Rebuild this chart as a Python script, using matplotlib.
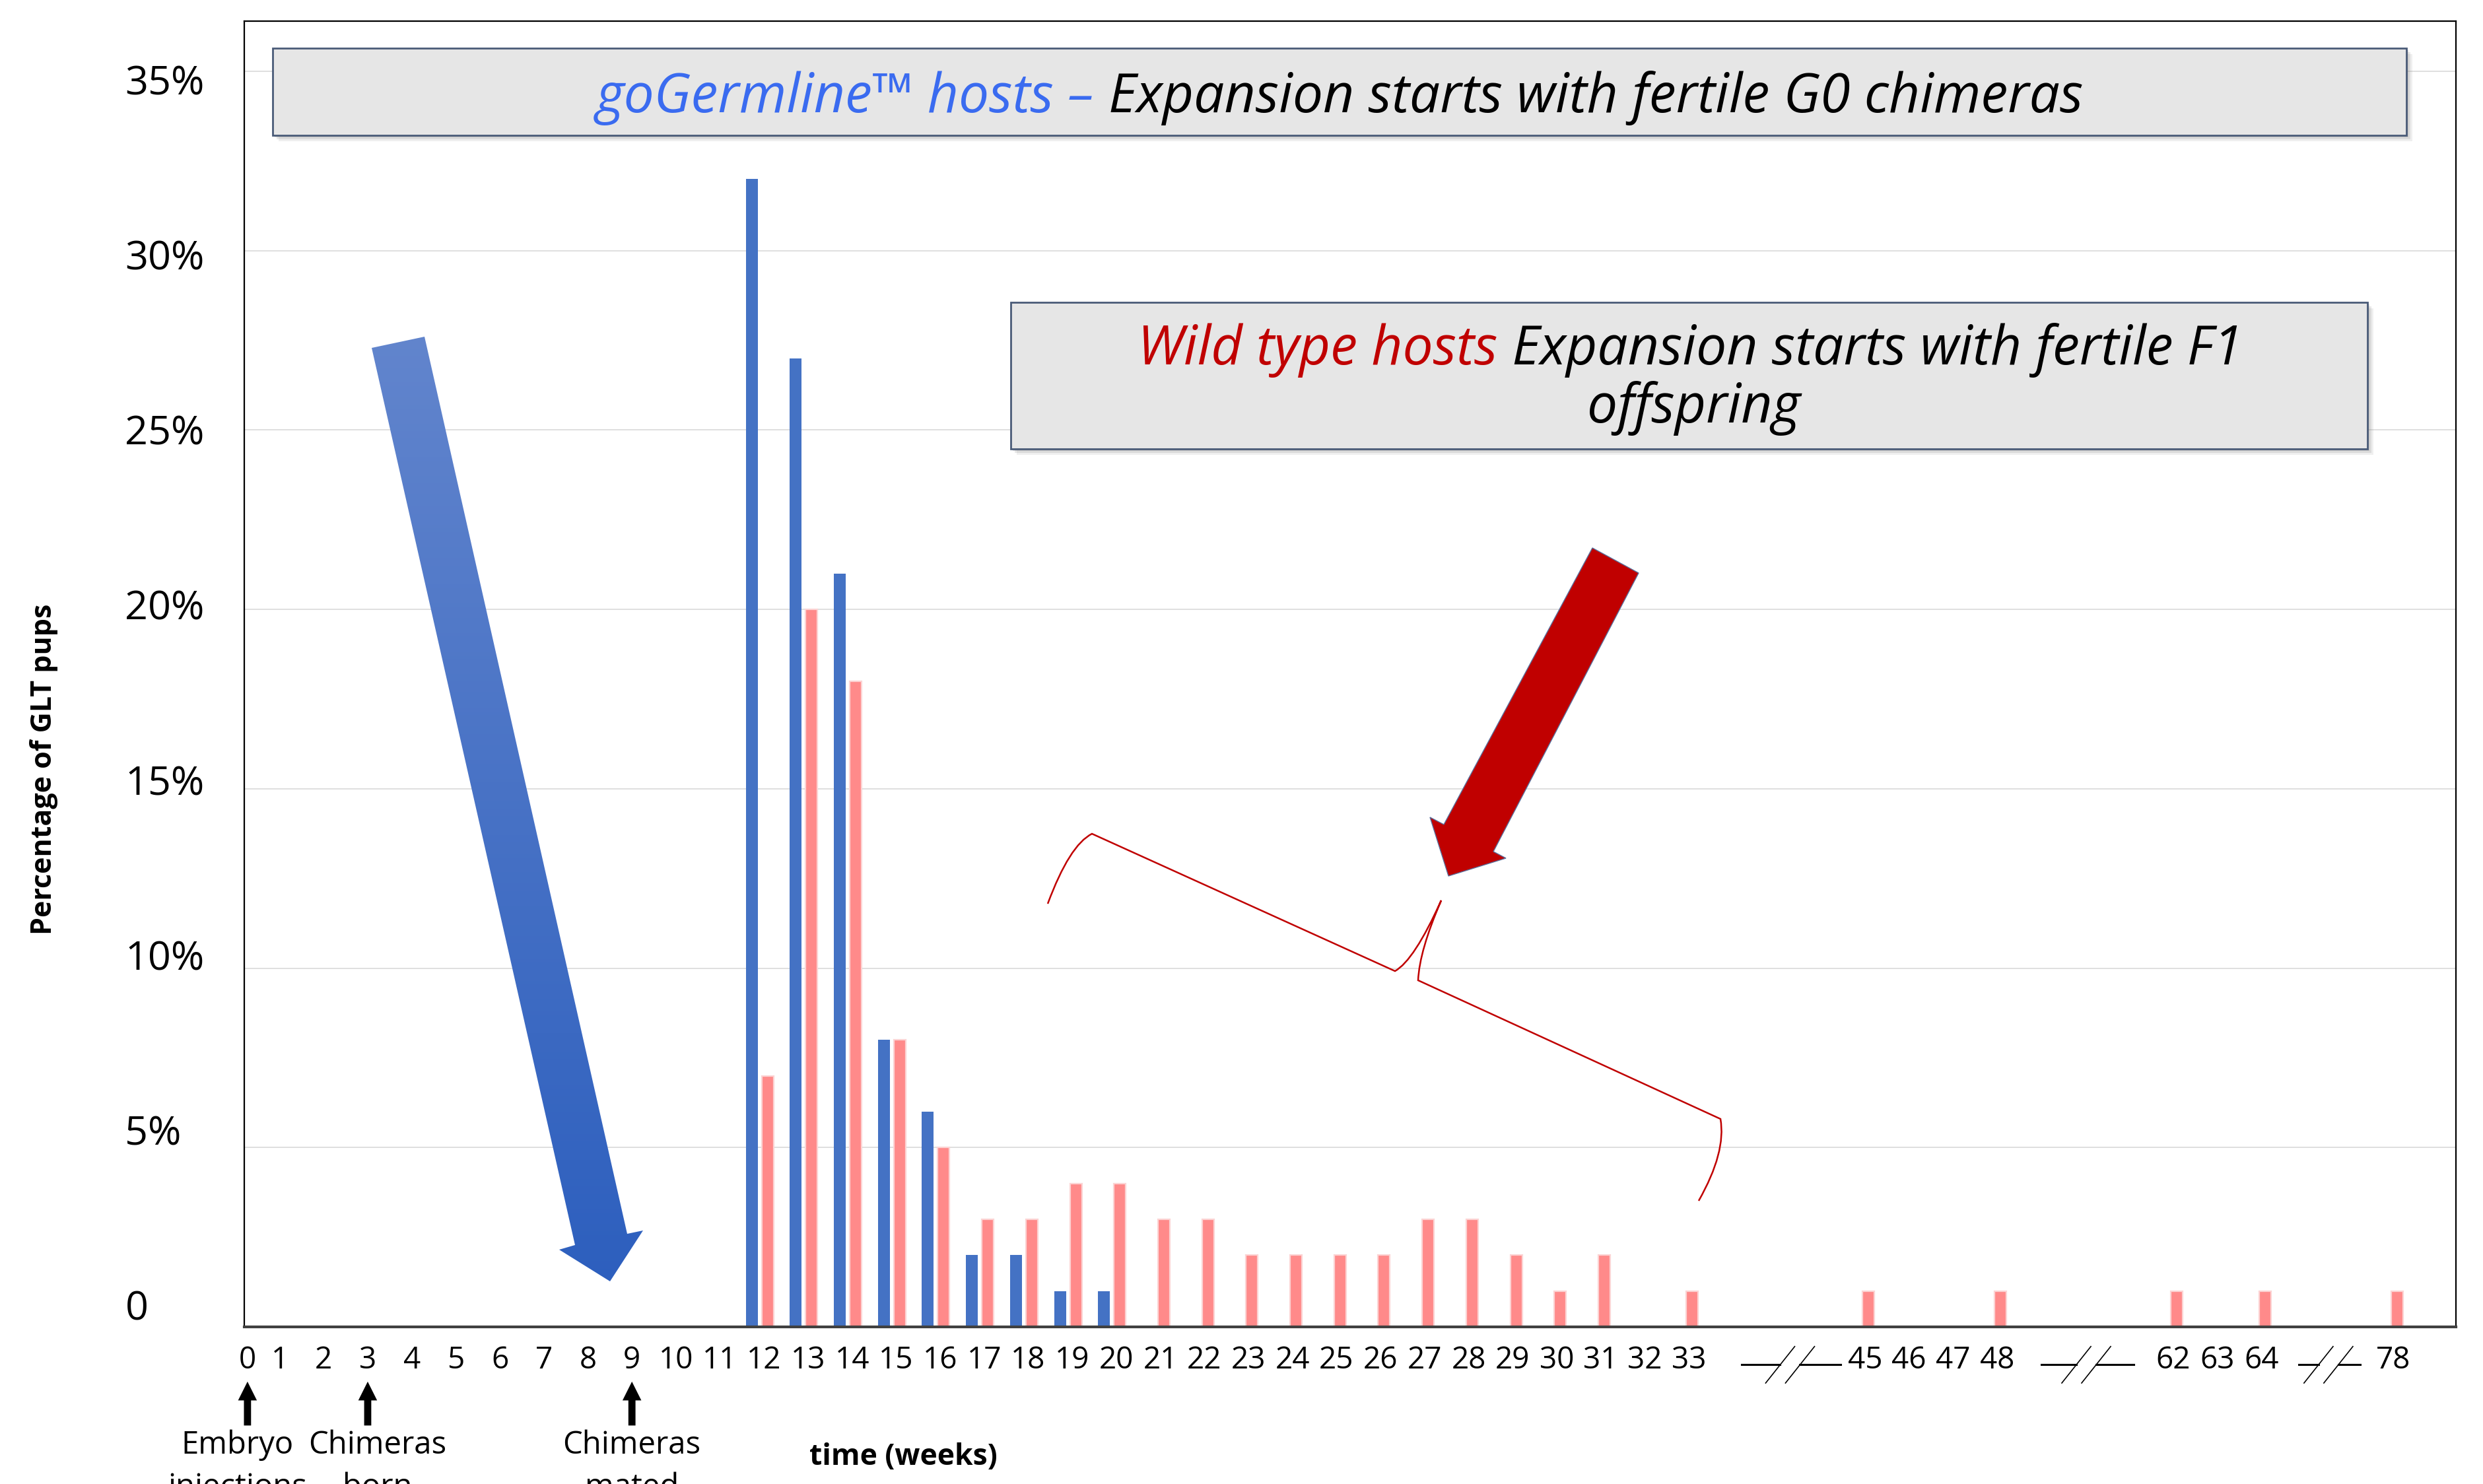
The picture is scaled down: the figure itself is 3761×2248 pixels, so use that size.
import numpy as np
import matplotlib.pyplot as plt
from matplotlib.colors import LinearSegmentedColormap
from matplotlib.patches import Polygon, Rectangle, PathPatch, FancyArrow
from matplotlib.path import Path
from matplotlib.transforms import ScaledTranslation

plt.rcParams['font.family'] = ['Open Sans', 'DejaVu Sans']

# data
weeks = list(range(34)) + [45, 46, 47, 48, 62, 63, 64, 78]
gogermline = [0] * 12 + [32, 27, 21, 8, 6, 2, 2, 1, 1] + [0] * 13 + [0] * 8
wild_type = [0] * 12 + [7, 20, 18, 8, 5, 3, 3, 4, 4, 3, 3, 2, 2, 2, 2, 3, 3, 2, 1, 2, 0, 1] + [1, 0, 0, 1, 1, 0, 1, 1]
y_ticks = [0, 5, 10, 15, 20, 25, 30, 35]
y_labels = ["0", "5%", "10%", "15%", "20%", "25%", "30%", "35%"]
# empty slots left after a week where the axis is broken
breaks = {33: 3, 48: 3, 64: 2}
milestones = [(0, "Embryo", "injections", -15), (3, "Chimeras", "born", 15), (9, "Chimeras", "mated", 0)]

W, H = 3762, 2248
fig = plt.figure(figsize=(W / 200, H / 200), dpi=200, facecolor="white")

# slot position of each week on the category axis
slots = []
s = 0
for i, w in enumerate(weeks):
    if i > 0 and weeks[i - 1] in breaks:
        s += breaks[weeks[i - 1]]
    slots.append(s)
    s += 1
slots = np.array(slots, dtype=float)
blue = np.array(gogermline, dtype=float)
pink = np.array(wild_type, dtype=float)

ax = fig.add_axes([370 / W, 1 - 2010 / H, 3350 / W, 1978 / H])
ax.set_xlim(0.297, 50.52)
ax.set_ylim(0, 36.4)

bw = 0.27
mb = blue > 0
mp = pink > 0
ax.bar(slots[mb] - 0.18, blue[mb], width=bw, color="#4472C4", zorder=2)
ax.bar(slots[mp] + 0.18, pink[mp], width=bw, color="#FF8A8A", edgecolor="#FCD4D4", linewidth=0.8, zorder=2)

ax.tick_params(axis="y", length=0, pad=65)
ax.tick_params(axis="x", length=0, pad=10)
ax.set_yticks(y_ticks)
ax.set_yticklabels(y_labels, fontsize=22)
for i, lab in enumerate(ax.get_yticklabels()):
    lab.set_horizontalalignment("left")
    # labels in the original sit a little off their gridlines
    dy = (-33 + i * 45 / 7) / 200
    lab.set_transform(lab.get_transform() + ScaledTranslation(0, -dy, fig.dpi_scale_trans))
ax.yaxis.grid(True, color="#D9D9D9", linewidth=0.6)
ax.set_axisbelow(True)
tick_pos = np.maximum(slots + 0.1, 0.37)
ax.set_xticks(tick_pos)
ax.set_xticklabels([str(w) for w in weeks], fontsize=16.5)
for sp in ax.spines.values():
    sp.set_color("black")
    sp.set_linewidth(0.8)
ax.spines["bottom"].set_color("#404040")
ax.spines["bottom"].set_linewidth(1.5)

# broken-axis marks under the gaps
break_span = {33: (1.3, 0.45), 48: (1.1, 0.8), 64: (0.95, 0.65)}
trans = ax.get_xaxis_transform()
for i, w in enumerate(weeks[:-1]):
    if w in breaks:
        a, b = break_span[w]
        x0 = slots[i] + a
        x1 = slots[i + 1] - b
        mid = (x0 + x1) / 2
        ax.plot([x0, mid - 0.25], [-0.029, -0.029], color="black", lw=1.1, transform=trans, clip_on=False)
        ax.plot([mid + 0.2, x1], [-0.029, -0.029], color="black", lw=1.1, transform=trans, clip_on=False)
        for dx in (-0.25, 0.2):
            ax.plot([mid + dx - 0.33, mid + dx + 0.33], [-0.043, -0.015], color="black", lw=0.6,
                    transform=trans, clip_on=False)

fig.text(67 / W, 1 - 1165 / H, "Percentage of GLT pups", rotation=90, ha="center", va="center",
         fontsize=15.5, fontweight="bold")

# overlay in figure pixels for the drawn shapes
ov = fig.add_axes([0, 0, 1, 1], zorder=3)
ov.set_xlim(0, W)
ov.set_ylim(H, 0)
ov.axis("off")
ov.patch.set_alpha(0)

ov.text(1368, 2207, "time (weeks)", ha="center", va="center", fontsize=16, fontweight="bold")

fig.canvas.draw()
for wk, line1, line2, off in milestones:
    x = ax.transData.transform((tick_pos[weeks.index(wk)], 0))[0]
    ov.add_patch(FancyArrow(x, 2158, 0, -62, width=8, head_width=24, head_length=24,
                            length_includes_head=True, color="black"))
    ov.text(x + off, 2202, line1, ha="center", va="baseline", fontsize=17)
    ov.text(x + off, 2266, line2, ha="center", va="baseline", fontsize=17)


def box(x0, y0, x1, y1):
    for k, a in enumerate([0.12, 0.18, 0.25]):
        d = 9 - 3 * k
        ov.add_patch(Rectangle((x0 + d, y0 + d), x1 - x0, y1 - y0, facecolor="#808080", alpha=a,
                               edgecolor="none"))
    ov.add_patch(Rectangle((x0, y0), x1 - x0, y1 - y0, facecolor="#E6E6E6", edgecolor="#4A5B78", lw=1.0))


def two_tone(cx, y, parts, size=29.5):
    texts = [ov.text(0, y, t, color=c, fontsize=size, style="italic", ha="left", va="baseline")
             for t, c in parts]
    r = fig.canvas.get_renderer()
    widths = [t.get_window_extent(r).width for t in texts]
    x = cx - sum(widths) / 2
    for t, wd in zip(texts, widths):
        t.set_x(x)
        x += wd


box(413, 73, 3645, 205)
two_tone(2029, 170, [("goGermline™ hosts – ", "#3A6BF0"), ("Expansion starts with fertile G0 chimeras", "black")])
box(1531, 458, 3586, 680)
two_tone(2560, 552, [("Wild type hosts", "#C00000"), (" Expansion starts with fertile F1", "black")])
two_tone(2566, 640, [("offspring", "black")])

# blue gradient arrow
blue_arrow = Polygon([(563, 527), (643, 510), (950, 1869), (974, 1864), (924, 1941), (847, 1893), (871, 1886)],
                     closed=True, facecolor="none", edgecolor="none")
ov.add_patch(blue_arrow)
cmap = LinearSegmentedColormap.from_list("bl", ["#6285CD", "#2D5FBE"])
img = ov.imshow(np.linspace(0, 1, 256).reshape(-1, 1), cmap=cmap, aspect="auto", origin="upper",
                extent=(540, 1000, 1950, 500), zorder=2)
img.set_clip_path(blue_arrow)

# red arrow
ov.add_patch(Polygon([(2412, 830), (2482, 868), (2262, 1290), (2281, 1300), (2194, 1327), (2166, 1238), (2187, 1249)],
                     closed=True, facecolor="#C00000", edgecolor="#5A6E9A", lw=0.5, zorder=3))

# brace
verts = [(1587, 1369), (1620, 1280), (1654, 1263), (2113, 1471), (2142, 1455), (2183, 1364),
         (2150, 1440), (2148, 1485), (2606, 1695), (2615, 1745), (2573, 1819)]
codes = [Path.MOVETO, Path.CURVE3, Path.CURVE3, Path.LINETO, Path.CURVE3, Path.CURVE3,
         Path.CURVE3, Path.CURVE3, Path.LINETO, Path.CURVE3, Path.CURVE3]
ov.add_patch(PathPatch(Path(verts, codes), fill=False, edgecolor="#C00000", lw=0.9))

ov.set_xlim(0, W)
ov.set_ylim(H, 0)

fig.savefig("out.png", dpi=200, facecolor="white")
